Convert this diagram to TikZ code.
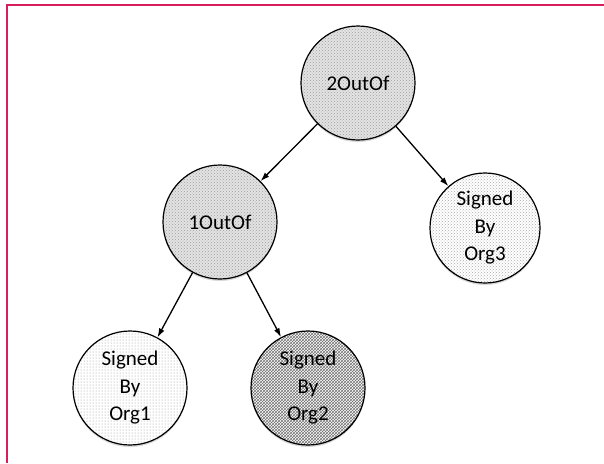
\documentclass[tikz,border=0pt]{standalone}
\usepackage{fontspec}
\setmainfont{Carlito}
\usetikzlibrary{patterns}
\usetikzlibrary{shadows}
\usetikzlibrary{arrows.meta}
\definecolor{frameRed}{RGB}{216,30,90}

\begin{document}
\begin{tikzpicture}
[x=1pt,y=-1pt,%
  lineDecorate/.style={-{Latex[length=9pt,width=6pt]},line width=1.3pt},%
  nodeDecorate/.style={shape=circle,draw,line width=1.2pt,minimum size=114pt,inner sep=0pt,align=center,%
    font=\fontsize{21}{27.5}\selectfont,drop shadow={opacity=0.3,shadow xshift=0pt,shadow yshift=-2pt}},%
  gateFill/.style={preaction={fill=gray!22},pattern=crosshatch dots,pattern color=gray!75},%
  dotFill/.style={preaction={fill=white},pattern=dots,pattern color=gray!85},%
  bigDotFill/.style={preaction={fill=white},pattern=crosshatch dots,pattern color=gray!65},%
  hatchFill/.style={preaction={fill=white},pattern=crosshatch,pattern color=black!55}]
%% frame
\useasboundingbox (0,0) rectangle (604,463);
\draw[frameRed,line width=2.5pt] (7,463) -- (7,5) -- (604,5);
%% nodes
\node[nodeDecorate,gateFill] (two) at (358,83) {2OutOf};
\node[nodeDecorate,gateFill] (one) at (220,222) {1OutOf};
\node[nodeDecorate,bigDotFill,minimum size=110pt] (org3) at (485,228) {Signed\\By\\Org3};
\node[nodeDecorate,dotFill] (org1) at (130,388) {Signed\\By\\Org1};
\node[nodeDecorate,hatchFill] (org2) at (308,388) {Signed\\By\\Org2};
%% connect nodes
\path
(two) edge[lineDecorate] (one)
(two) edge[lineDecorate] (org3)
(one) edge[lineDecorate] (org1)
(one) edge[lineDecorate] (org2);
\end{tikzpicture}
\end{document}
